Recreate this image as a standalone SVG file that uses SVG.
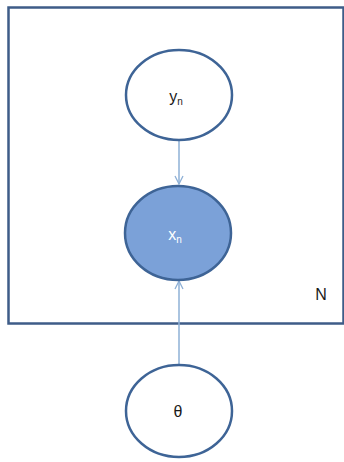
<svg xmlns="http://www.w3.org/2000/svg" width="344" height="462" viewBox="0 0 344 462">
<defs>
<style>
.node{stroke:#3e6496;stroke-width:2.5;}
.lbl{font-family:"Liberation Sans",Arial,sans-serif;font-size:16px;text-anchor:middle;}
.sub{font-size:10px;}
.edge{stroke:#8eb0d6;stroke-width:1.5;fill:none;}
</style>
<marker id="arr" markerWidth="10" markerHeight="10" refX="9" refY="5" orient="auto" markerUnits="userSpaceOnUse">
<path d="M1,1 L9,5 L1,9" fill="none" stroke="#8eb0d6" stroke-width="1.3"/>
</marker>
</defs>
<rect width="344" height="462" fill="#ffffff"/>
<g id="plate">
<rect x="8.5" y="7.5" width="335" height="316" fill="none" stroke="#3e5c88" stroke-width="2.5"/>
<text class="lbl" x="321" y="300" fill="#1a1a1a">N</text>
</g>
<g id="connectors">
<line class="edge" x1="179" y1="141" x2="179" y2="184" marker-end="url(#arr)"/>
<line class="edge" x1="179" y1="364" x2="179" y2="281" marker-end="url(#arr)"/>
</g>
<g id="y_n">
<ellipse class="node" cx="179" cy="95" rx="53" ry="45" fill="#ffffff"/>
<text class="lbl" x="176" y="102" fill="#1a1a1a">y<tspan class="sub" dy="3">n</tspan></text>
</g>
<g id="x_n">
<ellipse class="node" cx="178" cy="233" rx="53" ry="47" fill="#7ba1d8"/>
<text class="lbl" x="175" y="240" fill="#ffffff">x<tspan class="sub" dy="3">n</tspan></text>
</g>
<g id="theta">
<ellipse class="node" cx="179" cy="411" rx="53" ry="46" fill="#ffffff"/>
<text class="lbl" x="178" y="417" fill="#1a1a1a">θ</text>
</g>
</svg>
